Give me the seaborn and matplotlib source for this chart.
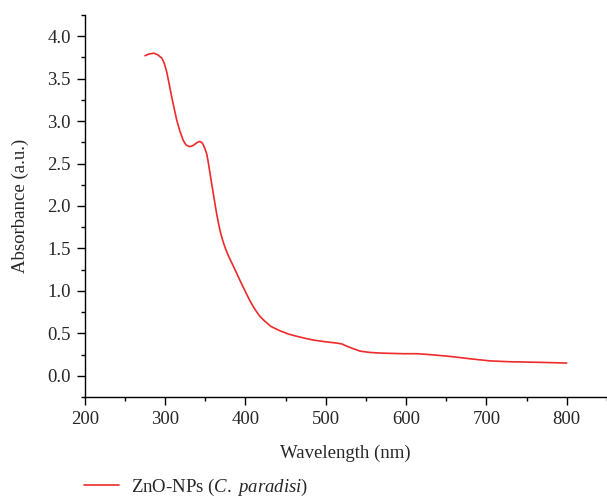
import matplotlib
matplotlib.use("Agg")
import matplotlib.pyplot as plt
from matplotlib.ticker import MultipleLocator
import seaborn as sns
import pandas as pd

# UV-vis spectrum
wavelength = [275, 280, 286, 291, 296, 299, 302, 305, 308.3, 311.5, 314.5, 318.5, 322.7, 326, 330,
              333, 336, 339.5, 342.6, 345.5, 347.6, 349.8, 351.9, 354, 356, 358, 360.1, 362.2, 364.3,
              366.4, 368.4, 371.5, 374.7, 378.5, 383, 388, 393.4, 399.5, 405.8, 412, 418, 424.5,
              432, 443, 454, 464, 475, 485, 500, 514, 520, 526, 534, 543, 555, 567, 580, 597,
              614, 635, 655, 680, 705, 730, 759, 780, 800]
absorbance = [3.77, 3.79, 3.80, 3.78, 3.74, 3.68, 3.58, 3.44, 3.28, 3.14, 3.01, 2.88, 2.77, 2.72, 2.70,
              2.705, 2.72, 2.745, 2.76, 2.75, 2.72, 2.67, 2.61, 2.50, 2.38, 2.26, 2.14, 2.02, 1.90,
              1.80, 1.71, 1.60, 1.51, 1.42, 1.33, 1.23, 1.12, 1.00, 0.88, 0.78, 0.70, 0.64,
              0.58, 0.53, 0.49, 0.465, 0.44, 0.42, 0.40, 0.385, 0.375, 0.35, 0.32, 0.29, 0.275, 0.268, 0.264, 0.26,
              0.26, 0.245, 0.228, 0.20, 0.175, 0.165, 0.16, 0.155, 0.15]

df = pd.DataFrame({"Wavelength": wavelength, "Absorbance": absorbance})

sns.set_style("ticks")
plt.rcParams["font.family"] = ["Liberation Serif", "DejaVu Serif"]
plt.rcParams["mathtext.fontset"] = "custom"
plt.rcParams["mathtext.it"] = "Liberation Serif:italic"
plt.rcParams["mathtext.rm"] = "Liberation Serif"

fig = plt.figure(figsize=(6.07, 4.99), dpi=100)
ax = fig.add_axes([0.1397, 0.2044, 0.86, 0.7656])

sns.lineplot(data=df, x="Wavelength", y="Absorbance", ax=ax, color="#ee2a2a",
             linewidth=1.2, label=r"ZnO-NPs ($\it{C.}$ $\it{paradisi}$)")

ax.set_xlim(200, 850)
ax.set_ylim(-0.25, 4.25)
ax.set_xticks(range(200, 801, 100))
ax.xaxis.set_minor_locator(MultipleLocator(50))
ax.set_yticks([0.0, 0.5, 1.0, 1.5, 2.0, 2.5, 3.0, 3.5, 4.0])
ax.set_yticklabels(["0.0", "0.5", "1.0", "1.5", "2.0", "2.5", "3.0", "3.5", "4.0"])
ax.yaxis.set_minor_locator(MultipleLocator(0.25))
ax.tick_params(which="major", direction="out", length=6, width=1, labelsize=13.5, color="black", pad=4)
ax.tick_params(which="minor", direction="out", length=3, width=1, color="black")
for s in ["left", "bottom"]:
    ax.spines[s].set_color("black")
    ax.spines[s].set_linewidth(1)
sns.despine(ax=ax)

ax.set_xlabel("Wavelength (nm)", fontsize=13.5, labelpad=12)
ax.set_ylabel("Absorbance (a.u.)", fontsize=13.5, labelpad=13)

ax.legend(loc="center left", bbox_to_anchor=(0.138, 0.024), bbox_transform=fig.transFigure,
          frameon=False, fontsize=13.5, borderpad=0, borderaxespad=0,
          handlelength=1.9, handletextpad=0.6)

fig.savefig("out.png", dpi=100)
